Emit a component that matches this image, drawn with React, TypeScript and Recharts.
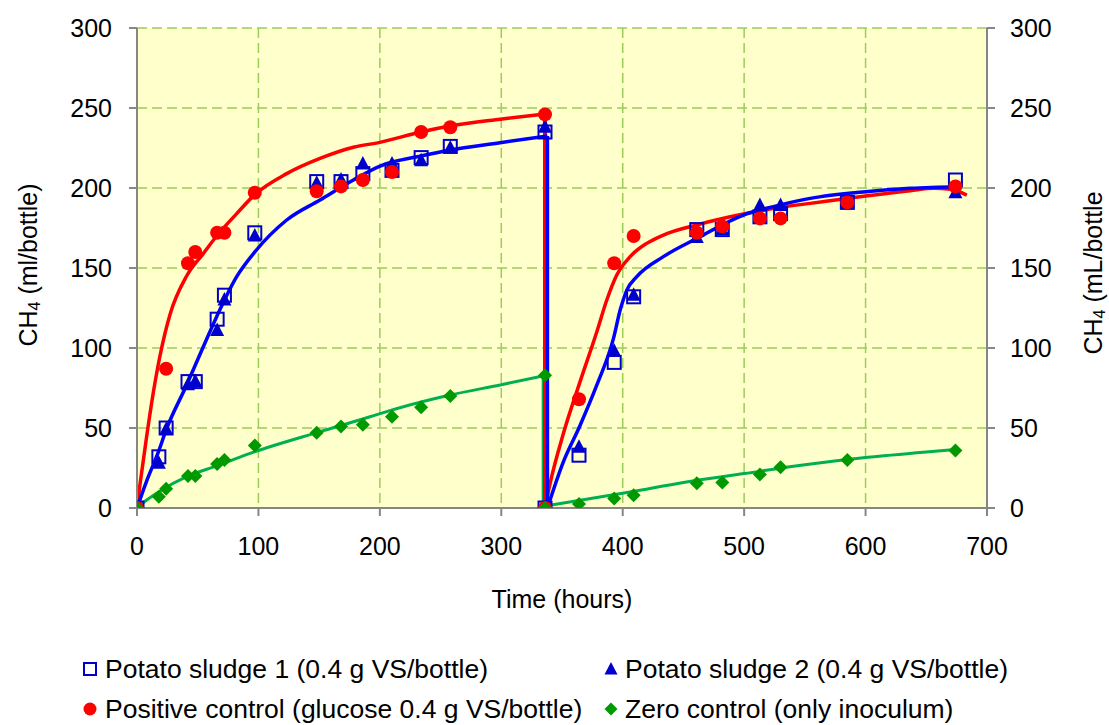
import React from 'react';
import { ComposedChart, XAxis, YAxis, CartesianGrid, Line, Scatter, Legend } from 'recharts';

const FONT = '"Liberation Sans", Arial, Helvetica, sans-serif';

// ---- measured data points (hours, ml CH4 per bottle) ----
const sludge1Hours = [0, 18, 24, 42, 48, 66, 72, 97, 148, 168, 186, 210, 234, 258, 336, 336, 364, 393, 409, 461, 482, 513, 530, 585, 674];
const sludge1Values = [0, 32, 50, 79, 79, 118, 133, 172, 204, 204, 209, 211, 219, 226, 235, 0, 33, 91, 132, 174, 174, 182, 184, 191, 205];

const sludge2Hours = [0, 18, 24, 42, 48, 66, 72, 97, 148, 168, 186, 210, 234, 258, 336, 336, 364, 393, 409, 461, 482, 513, 530, 585, 674];
const sludge2Values = [0, 28, 49, 77, 79, 111, 130, 170, 203, 205, 215, 215, 217, 225, 238, 0, 38, 98, 133, 169, 174, 189, 189, 191, 197];

const glucoseHours = [0, 24, 42, 48, 66, 72, 97, 148, 168, 186, 210, 234, 258, 336, 336, 364, 393, 409, 461, 482, 513, 530, 585, 674];
const glucoseValues = [0, 87, 153, 160, 172, 172, 197, 198, 201, 205, 210, 235, 238, 246, 0, 68, 153, 170, 172, 176, 181, 181, 191, 201];

const inoculumHours = [0, 18, 24, 42, 48, 66, 72, 97, 148, 168, 186, 210, 234, 258, 336, 336, 364, 393, 409, 461, 482, 513, 530, 585, 674];
const inoculumValues = [0, 7, 12, 20, 20, 27.5, 30, 39, 47, 51, 52, 57, 63, 70, 83, 0, 2.5, 6, 8, 15.5, 16, 21, 25.5, 30, 36];

// ---- fitted curves ----
const redFit1Hours = [0, 2.5, 8, 13.4, 18.9, 27.2, 40.9, 54.6, 65.6, 82.1, 97.2, 123.3, 150.7, 178.2, 200, 233.7, 257.8, 299, 336];
const redFit1Values = [0, 15, 45, 72, 95, 121, 145, 159, 170, 184, 196, 209, 218.5, 225.5, 228.5, 235, 238.7, 243, 246.3];
const redDropHours = [336, 336];
const redDropValues = [246.3, 0];
const redFit2Hours = [336, 340.2, 351.2, 364.4, 378.7, 386.9, 395.1, 406.1, 419.8, 433.5, 461, 499.4, 529.7, 554.4, 600, 636.7, 656, 669.7, 683.4];
const redFit2Values = [0, 15.4, 46.7, 77.9, 110.2, 130, 145.6, 157.1, 165.4, 170.6, 176.9, 183.7, 187.9, 190.4, 195, 198.3, 199.8, 199.2, 195.6];

const blueFit1Hours = [0, 8, 18.1, 23.6, 40.9, 54.6, 65.6, 82.1, 97.2, 123.3, 150.7, 178.2, 200.2, 233.7, 257.8, 299, 338];
const blueFit1Values = [0, 17, 36, 48, 76.9, 100.8, 119.6, 144.6, 160.2, 180, 192.5, 205, 213.7, 220, 223.8, 228.3, 232.5];
const blueDropHours = [338, 338];
const blueDropValues = [232.5, 0];
const blueFit2Hours = [338, 351.2, 364.4, 378.7, 392.4, 397.9, 403.4, 411.6, 433.5, 461, 499.4, 529.7, 554.4, 600, 636.7, 678];
const blueFit2Values = [0, 29, 50.8, 76.9, 106, 123.7, 136.2, 144.6, 157.1, 168.5, 183.1, 189.4, 193.5, 197.7, 199.8, 200.8];

const greenFit1Hours = [0, 8, 18.1, 40.9, 65.6, 97.2, 150.7, 191.9, 200.2, 257.8, 299, 334.5];
const greenFit1Values = [0, 5, 10.2, 19.6, 26.3, 35.2, 47.7, 57, 59, 70.6, 76.9, 82.5];
const greenDropHours = [334.5, 334.5];
const greenDropValues = [82.5, 0];
const greenFit2Hours = [334.5, 370, 406, 450, 500, 550, 600, 650, 674];
const greenFit2Values = [1, 5.5, 10, 16, 21.5, 27, 31.5, 35, 36.5];

const xTicks = [0, 100, 200, 300, 400, 500, 600, 700];
const yTicks = [0, 50, 100, 150, 200, 250, 300];

const legendLabels = [
  'Potato sludge 1 (0.4 g VS/bottle)',
  'Potato sludge 2 (0.4 g VS/bottle)',
  'Positive control (glucose 0.4 g VS/bottle)',
  'Zero control (only inoculum)',
];

const zip = (xs: number[], ys: number[]) => xs.map((x, i) => ({ x, y: ys[i] }));

const sludge1 = zip(sludge1Hours, sludge1Values);
const sludge2 = zip(sludge2Hours, sludge2Values);
const glucose = zip(glucoseHours, glucoseValues);
const inoculum = zip(inoculumHours, inoculumValues);

const RED = '#FF0000';
const BLUE_LINE = '#0000FF';
const BLUE_MARK = '#0000CC';
const GREEN_LINE = '#00B050';
const GREEN_MARK = '#009900';
const AXIS = '#868686';

const Square = (p: any) => (
  <rect x={p.cx - 6.5} y={p.cy - 6.5} width={13} height={13} fill="none" stroke={BLUE_MARK} strokeWidth={2} />
);
const Triangle = (p: any) => (
  <polygon points={`${p.cx},${p.cy - 8} ${p.cx + 7},${p.cy + 5.5} ${p.cx - 7},${p.cy + 5.5}`} fill={BLUE_MARK} />
);
const Circle = (p: any) => <circle cx={p.cx} cy={p.cy} r={7} fill={RED} />;
const Diamond = (p: any) => (
  <polygon points={`${p.cx},${p.cy - 7} ${p.cx + 7},${p.cy} ${p.cx},${p.cy + 7} ${p.cx - 7},${p.cy}`} fill={GREEN_MARK} />
);

const LeftTitle = () => {
  const x = 28;
  const y = 265;
  return (
    <text x={x} y={y} transform={`rotate(-90 ${x} ${y})`} textAnchor="middle" dominantBaseline="central" fontSize={25} fontFamily={FONT} fill="#000">
      CH<tspan dy={6} fontSize={16}>4</tspan><tspan dy={-6}> (ml/bottle)</tspan>
    </text>
  );
};

const RightTitle = () => {
  const x = 1093;
  const y = 273;
  return (
    <text x={x} y={y} transform={`rotate(-90 ${x} ${y})`} textAnchor="middle" dominantBaseline="central" fontSize={25} fontFamily={FONT} fill="#000">
      CH<tspan dy={6} fontSize={16}>4</tspan><tspan dy={-6}> (mL/bottle</tspan>
    </text>
  );
};

const XTitle = () => (
  <text x={562} y={608} textAnchor="middle" fontSize={25} fontFamily={FONT} fill="#000">
    Time (hours)
  </text>
);

const legendIcons = [
  <svg width={14} height={14} style={{ display: 'block' }}><rect x={1} y={1} width={12} height={12} fill="none" stroke={BLUE_MARK} strokeWidth={2} /></svg>,
  <svg width={14} height={14} style={{ display: 'block' }}><polygon points="7,0 13.5,12.5 0.5,12.5" fill={BLUE_MARK} /></svg>,
  <svg width={14} height={14} style={{ display: 'block' }}><circle cx={7} cy={7} r={6.5} fill={RED} /></svg>,
  <svg width={14} height={14} style={{ display: 'block' }}><polygon points="7,0.5 13.5,7 7,13.5 0.5,7" fill={GREEN_MARK} /></svg>,
];

const LegendContent = () => {
  const rows = [19, 59];
  const cols = [{ icon: 83, text: 105 }, { icon: 604, text: 625 }];
  const items = legendLabels.map((label, i) => {
    const r = rows[Math.floor(i / 2)];
    const c = cols[i % 2];
    return (
      <div key={label}>
        <div style={{ position: 'absolute', left: c.icon, top: r - 7 }}>{legendIcons[i]}</div>
        <div style={{ position: 'absolute', left: c.text, top: r - 15, lineHeight: '30px', fontSize: 26.5, fontFamily: FONT, color: '#000', whiteSpace: 'nowrap' }}>
          {label}
        </div>
      </div>
    );
  });
  return <div style={{ position: 'relative', width: 1109, height: 75 }}>{items}</div>;
};

export default function App() {
  const tickStyle = { fontSize: 25, fill: '#000', fontFamily: FONT };
  return (
    <div style={{ position: 'absolute', left: 0, top: 0, width: 1109, height: 725, background: '#fff' }}>
      <ComposedChart width={1109} height={725} margin={{ top: 28, right: 0, bottom: 0, left: 0 }}>
        <CartesianGrid stroke="#9ACD5A" strokeWidth={1.5} strokeDasharray="10 5" fill="#FFFFCC" />
        <XAxis
          type="number"
          dataKey="x"
          domain={[0, 700]}
          ticks={xTicks}
          height={217}
          tickSize={8}
          tickMargin={21}
          tick={tickStyle}
          stroke={AXIS}
          strokeWidth={2}
          allowDataOverflow
          label={<XTitle />}
        />
        <YAxis
          type="number"
          domain={[0, 300]}
          ticks={yTicks}
          width={137}
          tickSize={8}
          tickMargin={17}
          tick={tickStyle}
          stroke={AXIS}
          strokeWidth={2}
          allowDataOverflow
          label={<LeftTitle />}
        />
        <YAxis
          yAxisId="r"
          orientation="right"
          type="number"
          domain={[0, 300]}
          ticks={yTicks}
          width={122}
          tickSize={8}
          tickMargin={15}
          tick={tickStyle}
          stroke={AXIS}
          strokeWidth={2}
          allowDataOverflow
          label={<RightTitle />}
        />

        <Line data={zip(greenFit1Hours, greenFit1Values)} dataKey="y" type="monotone" stroke={GREEN_LINE} strokeWidth={3} dot={false} isAnimationActive={false} legendType="none" />
        <Line data={zip(greenDropHours, greenDropValues)} dataKey="y" type="linear" stroke={GREEN_LINE} strokeWidth={3} dot={false} isAnimationActive={false} legendType="none" />
        <Line data={zip(greenFit2Hours, greenFit2Values)} dataKey="y" type="monotone" stroke={GREEN_LINE} strokeWidth={3} dot={false} isAnimationActive={false} legendType="none" />

        <Line data={zip(redFit1Hours, redFit1Values)} dataKey="y" type="monotone" stroke={RED} strokeWidth={3.5} dot={false} isAnimationActive={false} legendType="none" />
        <Line data={zip(redDropHours, redDropValues)} dataKey="y" type="linear" stroke={RED} strokeWidth={4} dot={false} isAnimationActive={false} legendType="none" />
        <Line data={zip(redFit2Hours, redFit2Values)} dataKey="y" type="monotone" stroke={RED} strokeWidth={3.5} dot={false} isAnimationActive={false} legendType="none" />

        <Line data={zip(blueFit1Hours, blueFit1Values)} dataKey="y" type="monotone" stroke={BLUE_LINE} strokeWidth={3.5} dot={false} isAnimationActive={false} legendType="none" />
        <Line data={zip(blueDropHours, blueDropValues)} dataKey="y" type="linear" stroke={BLUE_LINE} strokeWidth={3.5} dot={false} isAnimationActive={false} legendType="none" />
        <Line data={zip(blueFit2Hours, blueFit2Values)} dataKey="y" type="monotone" stroke={BLUE_LINE} strokeWidth={3.5} dot={false} isAnimationActive={false} legendType="none" />

        <Scatter name={legendLabels[1]} data={sludge2} dataKey="y" shape={Triangle} isAnimationActive={false} />
        <Scatter name={legendLabels[0]} data={sludge1} dataKey="y" shape={Square} isAnimationActive={false} />
        <Scatter name={legendLabels[2]} data={glucose} dataKey="y" shape={Circle} isAnimationActive={false} />
        <Scatter name={legendLabels[3]} data={inoculum} dataKey="y" shape={Diamond} isAnimationActive={false} />

        <Legend
          layout="horizontal"
          verticalAlign="middle"
          align="center"
          wrapperStyle={{ top: 650, left: 0, width: 1109, height: 75 }}
          content={<LegendContent />}
        />
      </ComposedChart>
    </div>
  );
}
